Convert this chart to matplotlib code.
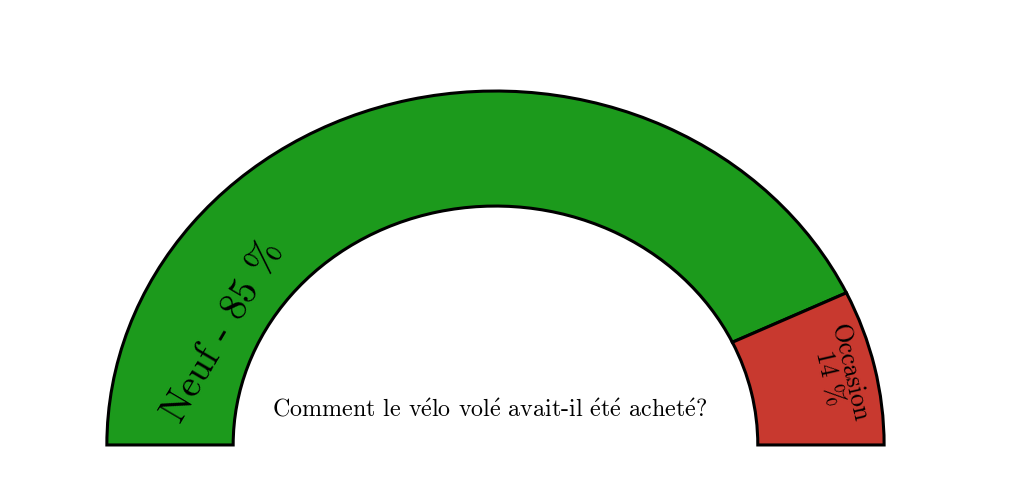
import numpy as np
import matplotlib.pyplot as plt
from matplotlib.patches import Wedge

categories = ["Neuf", "Occasion"]
values = [85, 14]
labels = ["Neuf - 85 %", "Occasion\n14 %"]
colors = ["#1c9a1c", "#c8392f"]
# accented letters go through mathtext, cmr10 has no é
title = r"Comment le v$\mathrm{\acute{e}}$lo vol$\mathrm{\acute{e}}$ avait-il $\mathrm{\acute{e}}$t$\mathrm{\acute{e}}$ achet$\mathrm{\acute{e}}$?"

plt.rcParams["font.family"] = ["cmr10", "DejaVu Serif"]
plt.rcParams["mathtext.fontset"] = "cm"

fig = plt.figure(figsize=(10.24, 4.81), dpi=100)
ax = fig.add_axes([0, 0, 1, 1])
ax.set_xlim(-1.275, 1.360)
ax.set_ylim(-0.099, 1.260)
ax.axis("off")

r_out = 1.0
ring = 0.325
total = sum(values)

# the gauge goes from left (180 deg) to right (0 deg)
start = 180.0
for cat, val, col in zip(categories, values, colors):
    span = val / total * 180.0
    ax.add_patch(Wedge((0, 0), r_out, start - span, start, width=ring,
                       facecolor=col, edgecolor="black", linewidth=2.2))
    start -= span

# labels
a_neuf = np.deg2rad(154)
ax.text(0.80 * np.cos(a_neuf) + 0.02, 0.80 * np.sin(a_neuf) - 0.03, labels[0],
        rotation=59.5, ha="center", va="center", fontsize=28,
        rotation_mode="anchor")

a_occ = np.deg2rad(values[1] / total * 180.0 / 2)
ax.text(0.905 * np.cos(a_occ), 0.905 * np.sin(a_occ), labels[1],
        rotation=-77, ha="center", va="center", fontsize=18.5,
        linespacing=0.85, rotation_mode="anchor")

ax.text(-0.015, 0.10, title, ha="center", va="center", fontsize=17.3)

fig.savefig("out.png", dpi=100)
